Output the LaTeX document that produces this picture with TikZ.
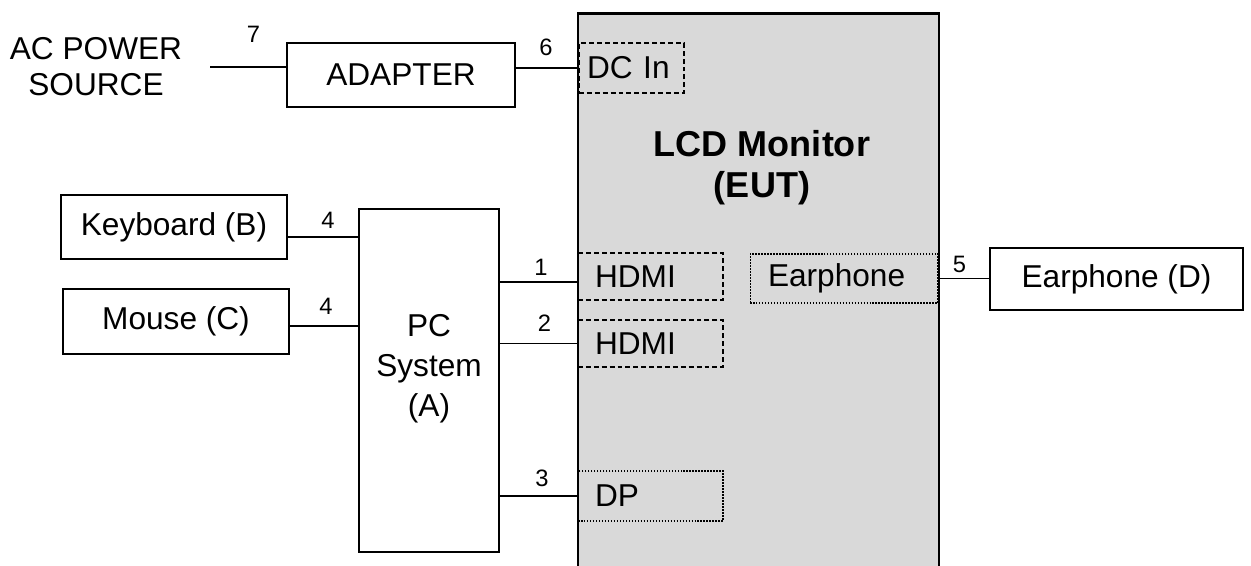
\documentclass[tikz,border=0pt]{standalone}
\usepackage{fontspec}
\setmainfont{Liberation Sans}

\tikzset{
    box/.style={draw, line width=0.75pt, fill=white, inner sep=0pt},
    port/.style={draw, line width=0.6pt, align=left, inner ysep=0pt},
    dashport/.style={port, dash pattern=on 2.8pt off 1.7pt},
    dotport/.style={port, dash pattern=on 0.85pt off 0.85pt},
    num/.style={font=\fontsize{13.5}{16}\selectfont, inner sep=0pt},
    wire/.style={line width=0.75pt}
}

\begin{document}
\begin{tikzpicture}[x=0.02cm, y=-0.02cm, every node/.style={font=\fontsize{18}{22.8}\selectfont}]
    \clip (0,0) rectangle (1251,565);

    % Monitor (EUT)
    \node[draw, fill=gray!30, line width=1.6pt, inner sep=0pt, minimum width=7.22cm, minimum height=12cm, anchor=north] (lcd) at (758.5,12) {};
    \node[font=\fontsize{20.5}{23.5}\selectfont\bfseries, align=center] (eut) at (762,168) {LCD Monitor\\(EUT)};

    % Ports on the monitor
    \node[dashport, text width=1.78cm, inner xsep=0.16cm, minimum height=1.0cm] (dcin) at (631.5,68) {DC In};
    \node[dashport, text width=2.22cm, inner xsep=0.34cm, minimum height=0.94cm] (hdmi1) at (650.5,276.5) {HDMI};
    \node[dashport, text width=2.22cm, inner xsep=0.34cm, minimum height=0.94cm] (hdmi2) at (650.5,343.5) {HDMI};
    \node[dotport, text width=2.22cm, inner xsep=0.34cm, minimum height=1.0cm] (dp) at (650.5,496) {DP};
    \node[dotport, text width=3.04cm, inner xsep=0.36cm, minimum height=0.98cm] (ear) at (844,278.5) {Earphone};

    % Power
    \node[align=center, inner sep=0pt, font=\fontsize{18}{20.4}\selectfont] (ac) at (96,67) {AC POWER\\SOURCE};
    \node[box, minimum width=4.56cm, minimum height=1.28cm] (adapter) at (401,75) {ADAPTER};

    % Support units
    \node[box, minimum width=4.52cm, minimum height=1.28cm] (kbd) at (174,227) {Keyboard (B)};
    \node[box, minimum width=4.52cm, minimum height=1.3cm] (mouse) at (176,321.5) {Mouse (C)};
    \node[box, minimum width=2.8cm, minimum height=6.86cm] (pc) at (429,380.5) {};
    \node[align=center, inner sep=0pt] (pctext) at (429,368.5) {PC\\System\\(A)};
    \node[box, minimum width=5.06cm, minimum height=1.24cm] (earD) at (1116.5,279) {Earphone (D)};

    % Cables
    \coordinate (kbdout) at ([yshift=-0.2cm]kbd.east);
    \coordinate (mouseout) at ([yshift=-0.09cm]mouse.east);
    \coordinate (hdmiin) at ([yshift=-0.11cm]hdmi1.west);
    \draw[wire, shorten <=0.56cm] (ac.east) -- (ac.east -| adapter.west);
    \draw[wire] (dcin.west -| adapter.east) -- (dcin.west);
    \draw[wire] (kbdout) -- (kbdout -| pc.west);
    \draw[wire] (mouseout) -- (mouseout -| pc.west);
    \draw[wire] (hdmiin -| pc.east) -- (hdmiin);
    \draw[wire] (hdmi2.west -| pc.east) -- (hdmi2.west);
    \draw[wire] (dp.west -| pc.east) -- (dp.west);
    \draw[wire] (ear.east) -- (ear.east -| earD.west);

    % Cable numbers
    \node[num] (n7) at (253.5,34) {7};
    \node[num] (n6) at (546,47) {6};
    \node[num] (n4a) at (328,220) {4};
    \node[num] (n4b) at (326,306.5) {4};
    \node[num] (n1) at (541,267) {1};
    \node[num] (n2) at (544.5,323) {2};
    \node[num] (n3) at (542,478) {3};
    \node[num] (n5) at (959.5,264.5) {5};
\end{tikzpicture}
\end{document}
